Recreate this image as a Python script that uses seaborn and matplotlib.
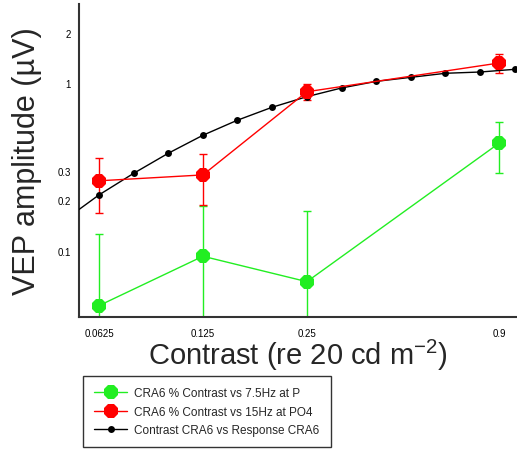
import matplotlib
matplotlib.use("Agg")
import matplotlib.pyplot as plt
import seaborn as sns
import pandas as pd
import numpy as np
from matplotlib.ticker import FixedLocator, NullLocator, FixedFormatter

sns.set_style("white")
plt.rcParams['font.family'] = ['Liberation Sans', 'DejaVu Sans']

# --- data ---
contrast = [0.0625, 0.125, 0.25, 0.9]
green_y = [0.047, 0.0926, 0.0653, 0.437]
green_err = [0.079, 0.092, 0.106, 0.145]
red_y = [0.261, 0.283, 0.887, 1.316]
red_err = [0.094, 0.096, 0.10, 0.17]

fit_x = [0.0625, 0.0787, 0.0992, 0.125, 0.157, 0.198, 0.25, 0.315, 0.397, 0.5, 0.63, 0.794, 1.0]
fit_y = [0.215, 0.289, 0.381, 0.488, 0.599, 0.716, 0.829, 0.934, 1.023, 1.081, 1.143, 1.163, 1.207]
ext_x = [0.0547, 0.0625]
ext_y = [0.176, 0.215]

labels = ["CRA6 % Contrast vs 7.5Hz at P", "CRA6 % Contrast vs 15Hz at PO4",
          "Contrast CRA6 vs Response CRA6"]
xticks = [0.0625, 0.125, 0.25, 0.9]
xticklabels = ["0.0625", "0.125", "0.25", "0.9"]
yticks = [0.1, 0.2, 0.3, 1, 2]
yticklabels = ["0.1", "0.2", "0.3", "1", "2"]

GREEN = "#22ee22"
RED = "#ff0000"

fig = plt.figure(figsize=(5.17, 4.52), dpi=100)
ax = fig.add_axes([79/517, 1-318/452, 1-79/517, 313/452])
ax.set_xscale("log")
ax.set_yscale("log")

df_g = pd.DataFrame({"x": contrast, "y": green_y})
df_r = pd.DataFrame({"x": contrast, "y": red_y})
df_f = pd.DataFrame({"x": fit_x, "y": fit_y})

# error bars
ax.errorbar(contrast, green_y, yerr=green_err, fmt="none", ecolor=GREEN,
            elinewidth=1, capsize=3, capthick=1, zorder=2)
ax.errorbar(contrast, red_y, yerr=red_err, fmt="none", ecolor=RED,
            elinewidth=1, capsize=3, capthick=1, zorder=2)

sns.lineplot(data=df_f, x="x", y="y", ax=ax, color="black", lw=1,
             marker="o", markersize=5, markeredgewidth=0, label=labels[2],
             sort=False, zorder=3)
ax.plot(ext_x, ext_y, color="black", lw=1, zorder=3)
sns.lineplot(data=df_g, x="x", y="y", ax=ax, color=GREEN, lw=1,
             marker="8", markersize=11, markeredgewidth=0, label=labels[0],
             sort=False, zorder=4, clip_on=False)
sns.lineplot(data=df_r, x="x", y="y", ax=ax, color=RED, lw=1,
             marker="8", markersize=11, markeredgewidth=0, label=labels[1],
             sort=False, zorder=4)

ax.set_xlim(0.0547, 1.015)
ax.set_ylim(0.0402, 2.96)

ax.xaxis.set_major_locator(FixedLocator(xticks))
ax.xaxis.set_major_formatter(FixedFormatter(xticklabels))
ax.xaxis.set_minor_locator(NullLocator())
ax.yaxis.set_major_locator(FixedLocator(yticks))
ax.yaxis.set_major_formatter(FixedFormatter(yticklabels))
ax.yaxis.set_minor_locator(NullLocator())
ax.tick_params(axis="both", direction="in", length=9, width=1, colors="black",
               labelsize=7, pad=6)
ax.tick_params(axis="x", pad=8)

for s in ["top", "right"]:
    ax.spines[s].set_visible(False)
for s in ["left", "bottom"]:
    ax.spines[s].set_color("#333333")
    ax.spines[s].set_linewidth(1.5)

ax.set_xlabel("Contrast (re 20 cd m$^{\\mathregular{-2}}$)", fontsize=21, labelpad=-1)
ax.set_ylabel("VEP amplitude (µV)", fontsize=22, labelpad=11)

handles, labs = ax.get_legend_handles_labels()
order = [labs.index(l) for l in labels]
leg = ax.legend([handles[i] for i in order], [labs[i] for i in order],
                loc="upper left", bbox_to_anchor=(83/517, 1-377/452),
                bbox_transform=fig.transFigure, borderaxespad=0,
                fontsize=8.5, frameon=True,
                fancybox=False, edgecolor="black", borderpad=0.95,
                handlelength=2.8, handletextpad=0.6, labelspacing=0.55)
leg.get_frame().set_linewidth(1)

fig.savefig("out.png", dpi=100)
